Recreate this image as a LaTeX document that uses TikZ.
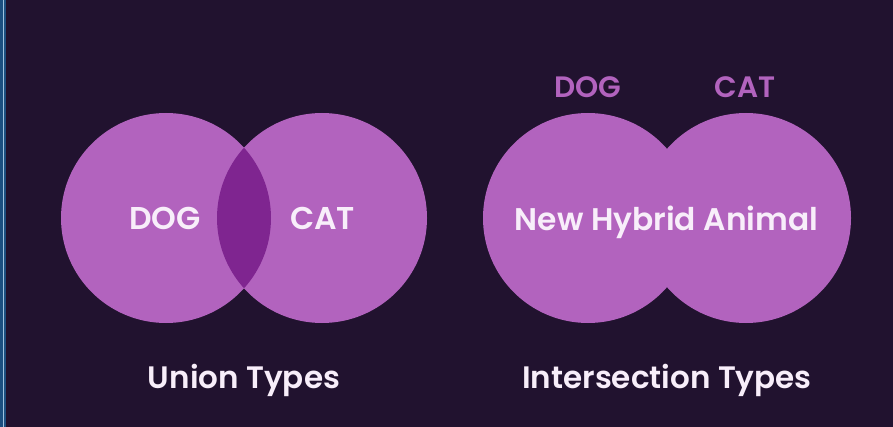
\documentclass[tikz,border=0pt]{standalone}
\usepackage{fontspec}
\setmainfont{Poppins}[BoldFont=* SemiBold]
\definecolor{bgdark}{HTML}{21122F}
\definecolor{setfill}{HTML}{B263BE}
\definecolor{overlap}{HTML}{7F2590}
\definecolor{textlight}{HTML}{F8EEFA}
\definecolor{edgeblue}{HTML}{1B4F80}
\definecolor{edgeline}{HTML}{9EC3E0}
\tikzset{
  setdisc/.style={circle, fill=setfill, draw=none, inner sep=0pt, minimum size=210pt},
  setname/.style={text=textlight, font=\bfseries\fontsize{31.5}{36}\selectfont, anchor=base, inner sep=0pt},
  hybridname/.style={text=textlight, font=\bfseries\fontsize{31.3}{36}\selectfont, anchor=base, inner sep=0pt},
  toplabel/.style={text=setfill, font=\bfseries\fontsize{29.5}{34}\selectfont, anchor=base, inner sep=0pt},
  caption/.style={text=textlight, font=\bfseries\fontsize{31}{36}\selectfont, anchor=base, inner sep=0pt}
}
\begin{document}
\begin{tikzpicture}[x=1pt, y=-1pt]
  % canvas
  \fill[bgdark] (0,0) rectangle (893,427);
  \useasboundingbox (0,0) rectangle (893,427);
  \fill[edgeblue] (0,0) rectangle (6,427);
  \draw[edgeline, line width=0.8pt] (3.8,0) -- (3.8,427);

  % union: two overlapping sets
  \node[setdisc] (udogc) at (166,218) {};
  \node[setdisc] (ucatc) at (322,218) {};
  \begin{scope}
    \clip (166,218) circle (105);
    \fill[overlap] (322,218) circle (105);
  \end{scope}
  \node[setname] (udog) at (165,230) {DOG};
  \node[setname] (ucat) at (322.5,230) {CAT};
  \node[caption] (ucap) at (244,388) {Union Types};

  % intersection: merged sets
  \node[setdisc] (idogc) at (588,218) {};
  \node[setdisc] (icatc) at (746,218) {};
  \node[toplabel] (idog) at (588,98) {DOG};
  \node[toplabel] (icat) at (745,98) {CAT};
  \node[hybridname] (ihyb) at (666.5,231) {New Hybrid Animal};
  \node[caption] (icap) at (667,388) {Intersection Types};
\end{tikzpicture}
\end{document}
